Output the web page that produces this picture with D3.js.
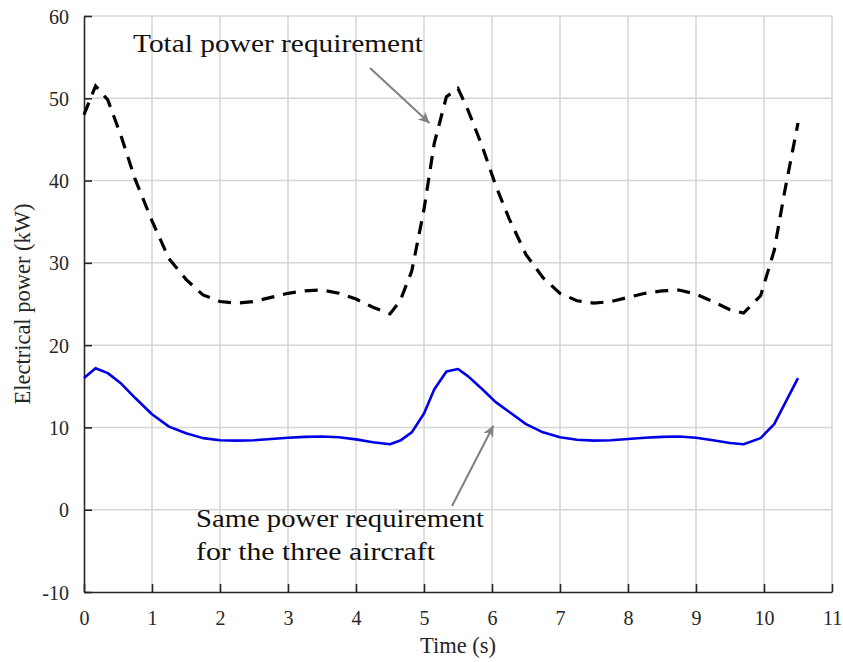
<!DOCTYPE html>
<html>
<head>
<meta charset="utf-8">
<script src="https://cdn.jsdelivr.net/npm/d3@7"></script>
<style>
  body { margin: 0; background: white; }
  text { font-family: "Liberation Serif", "Times New Roman", serif; }
</style>
</head>
<body>
<svg id="chart"></svg>
<script>
// time samples (s)
var times = [0, 0.17, 0.35, 0.55, 0.75, 1.0, 1.25, 1.5, 1.75, 2.0, 2.25, 2.5, 2.75, 3.0, 3.25, 3.5, 3.75, 4.0, 4.25, 4.5,
    4.65, 4.82, 5.0, 5.15, 5.33, 5.5, 5.65, 5.85, 6.05, 6.25, 6.5, 6.75, 7.0, 7.25, 7.5, 7.75, 8.0, 8.25, 8.5, 8.75,
    9.0, 9.25, 9.5, 9.7, 9.95, 10.15, 10.3, 10.5];

// total power (kW), dashed black
var totalPower = [48.0, 51.5, 49.8, 45.3, 40.2, 35.1, 30.5, 28.0, 26.1, 25.3, 25.1, 25.3, 25.8, 26.3, 26.6, 26.7, 26.3, 25.6, 24.6, 23.8,
    25.4, 29.0, 36.5, 44.5, 50.2, 51.2, 48.5, 44.3, 39.5, 35.4, 31.0, 28.2, 26.3, 25.4, 25.1, 25.3, 25.8, 26.3, 26.6, 26.7,
    26.2, 25.3, 24.3, 23.9, 26.0, 31.5, 38.5, 47.0];

// power of one aircraft (kW), blue
var singlePower = [16.0, 17.2, 16.6, 15.3, 13.6, 11.6, 10.1, 9.3, 8.7, 8.45, 8.4, 8.45, 8.6, 8.75, 8.85, 8.9, 8.8, 8.55, 8.2, 7.95,
    8.4, 9.4, 11.7, 14.6, 16.8, 17.1, 16.2, 14.7, 13.1, 11.9, 10.4, 9.4, 8.8, 8.5, 8.4, 8.45, 8.6, 8.75, 8.85, 8.9,
    8.75, 8.45, 8.1, 7.95, 8.7, 10.4, 12.8, 16.0];

var xTicks = d3.range(0, 12);
var yTicks = d3.range(-10, 70, 10);

var dimensions = {
    width: 843,
    height: 662,
    margin: { top: 16, bottom: 70, right: 11, left: 84 }
};

var svg = d3.select("#chart")
    .attr("width", dimensions.width)
    .attr("height", dimensions.height);

var xScale = d3.scaleLinear()
    .domain([0, 11])
    .range([dimensions.margin.left, dimensions.width - dimensions.margin.right]);

var yScale = d3.scaleLinear()
    .domain([-10, 60])
    .range([dimensions.height - dimensions.margin.bottom, dimensions.margin.top]);

// grid
svg.append("g")
    .selectAll("line.vgrid")
    .data(xTicks.slice(1))
    .enter()
    .append("line")
    .attr("x1", d => xScale(d)).attr("x2", d => xScale(d))
    .attr("y1", yScale(-10)).attr("y2", yScale(60))
    .attr("stroke", "#d6d6d6").attr("stroke-width", 1.5);

svg.append("g")
    .selectAll("line.hgrid")
    .data(yTicks.slice(1))
    .enter()
    .append("line")
    .attr("x1", xScale(0)).attr("x2", xScale(11))
    .attr("y1", d => yScale(d)).attr("y2", d => yScale(d))
    .attr("stroke", "#d6d6d6").attr("stroke-width", 1.5);

// axes
var xAxis = svg.append("g")
    .attr("transform", `translate(0,${yScale(-10)})`)
    .call(d3.axisBottom(xScale).tickValues(xTicks).tickFormat(d => String(d))
        .tickSizeInner(-8).tickSizeOuter(0).tickPadding(19));

var yAxis = svg.append("g")
    .attr("transform", `translate(${xScale(0)},0)`)
    .call(d3.axisLeft(yScale).tickValues(yTicks).tickFormat(d => String(d))
        .tickSizeInner(-8).tickSizeOuter(0).tickPadding(15));

[xAxis, yAxis].forEach(a => {
    a.attr("font-family", "'Liberation Serif', serif").attr("font-size", 20);
    a.select(".domain").attr("stroke", "#262626").attr("stroke-width", 1.6);
    a.selectAll(".tick line").attr("stroke", "#262626").attr("stroke-width", 1.6);
    a.selectAll(".tick text").attr("fill", "#262626");
});
yAxis.selectAll(".tick text").attr("dy", "0.35em");

svg.append("text")
    .attr("text-anchor", "middle")
    .attr("x", (xScale(0) + xScale(11)) / 2)
    .attr("y", 653)
    .attr("fill", "#262626")
    .style("font-size", "22.5px")
    .text("Time (s)");

svg.append("text")
    .attr("text-anchor", "middle")
    .attr("transform", `translate(30,${(yScale(-10) + yScale(60)) / 2}) rotate(-90)`)
    .attr("fill", "#262626")
    .style("font-size", "22.5px")
    .text("Electrical power (kW)");

// lines
var line = d3.line()
    .x((d, i) => xScale(times[i]))
    .y(d => yScale(d));

svg.append("path")
    .datum(totalPower)
    .attr("d", line)
    .attr("fill", "none")
    .attr("stroke", "black")
    .attr("stroke-width", 3.2)
    .attr("stroke-dasharray", "13,9");

svg.append("path")
    .datum(singlePower)
    .attr("d", line)
    .attr("fill", "none")
    .attr("stroke", "#0000e6")
    .attr("stroke-width", 2.6)
    .attr("stroke-linejoin", "round");

// annotations
svg.append("defs").append("marker")
    .attr("id", "arrow")
    .attr("viewBox", "0 0 10 10")
    .attr("refX", 10).attr("refY", 5)
    .attr("markerWidth", 13).attr("markerHeight", 11)
    .attr("markerUnits", "userSpaceOnUse")
    .attr("orient", "auto")
    .append("path")
    .attr("d", "M0,0 L10,5 L0,10 L3,5 Z")
    .attr("fill", "#808080");

svg.append("line")
    .attr("x1", 370).attr("y1", 68)
    .attr("x2", xScale(5.08)).attr("y2", yScale(47))
    .attr("stroke", "#808080").attr("stroke-width", 2)
    .attr("marker-end", "url(#arrow)");

svg.append("line")
    .attr("x1", 452).attr("y1", 506)
    .attr("x2", xScale(6.02)).attr("y2", yScale(10.2))
    .attr("stroke", "#808080").attr("stroke-width", 2)
    .attr("marker-end", "url(#arrow)");

var annFont = "'Liberation Serif', serif";
svg.append("text")
    .attr("x", 133).attr("y", 52)
    .attr("textLength", 290).attr("lengthAdjust", "spacingAndGlyphs")
    .style("font-family", annFont).style("font-size", "26px")
    .attr("fill", "#111")
    .text("Total power requirement");

svg.append("text")
    .attr("x", 196).attr("y", 527)
    .attr("textLength", 288).attr("lengthAdjust", "spacingAndGlyphs")
    .style("font-family", annFont).style("font-size", "26px")
    .attr("fill", "#111")
    .text("Same power requirement");

svg.append("text")
    .attr("x", 196).attr("y", 560)
    .attr("textLength", 239).attr("lengthAdjust", "spacingAndGlyphs")
    .style("font-family", annFont).style("font-size", "26px")
    .attr("fill", "#111")
    .text("for the three aircraft");
</script>
</body>
</html>
